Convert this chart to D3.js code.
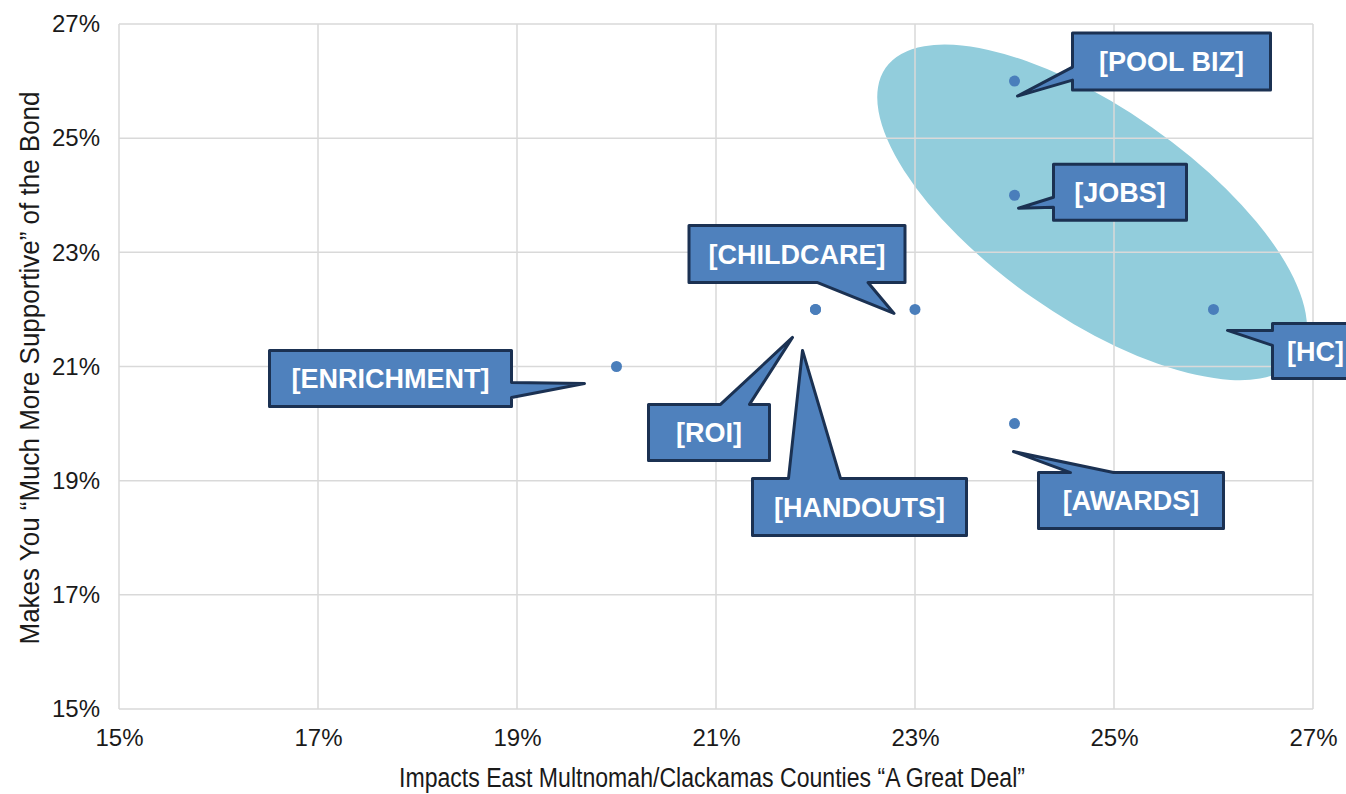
<!DOCTYPE html>
<html>
<head>
<meta charset="utf-8">
<script src="https://cdn.jsdelivr.net/npm/d3@7"></script>
<style>
  body { margin: 0; background: #fff; }
  text { font-family: "Liberation Sans", Arial, sans-serif; }
</style>
</head>
<body>
<div id="chart"></div>
<script>
// data
const labels  = ["[POOL BIZ]", "[JOBS]", "[HC]", "[CHILDCARE]", "[ROI]", "[HANDOUTS]", "[ENRICHMENT]", "[AWARDS]"];
const xValues = [24, 24, 26, 23, 22, 22, 20, 24];
const yValues = [26, 24, 22, 22, 22, 22, 21, 20];
const xTicks  = [15, 17, 19, 21, 23, 25, 27];
const yTicks  = [15, 17, 19, 21, 23, 25, 27];
const xTitle  = "Impacts East Multnomah/Clackamas Counties \u201CA Great Deal\u201D";
const yTitle  = "Makes You \u201CMuch More Supportive\u201D of the Bond";
// lingkaran sorotan (pusat dalam satuan data)
const highlightCenter = [24.78, 23.7];

// layout callout, offset px relatif ke titik
const callouts = [
  { box: [58, -48, 198, 57],   side: "left",   b: [34, 47],   tip: [3, 15] },
  { box: [39, -31, 133, 56],   side: "left",   b: [33, 43],   tip: [4, 13] },
  { box: [59, 14, 86, 55],     side: "left",   b: [7, 22],    tip: [14, 21] },
  { box: [-226, -84, 216, 57], side: "bottom", b: [128, 179], tip: [-21, 4] },
  { box: [-167, 95, 121, 56],  side: "top",    b: [72, 101],  tip: [-23, 28] },
  { box: [-63, 169, 214, 57],  side: "top",    b: [36, 88],   tip: [-13, 41] },
  { box: [-347, -16, 242, 56], side: "right",  b: [32, 47],   tip: [-32, 17] },
  { box: [24, 49, 185, 56],    side: "top",    b: [32, 75],   tip: [-1, 28] }
];

const W = 1346, H = 794;
const margin = { top: 24, right: 33, bottom: 85, left: 119 },
      width  = W - margin.left - margin.right,
      height = H - margin.top - margin.bottom;

const svg = d3.select("#chart").append("svg")
    .attr("width", W).attr("height", H)
  .append("g")
    .attr("transform", `translate(${margin.left},${margin.top})`);

const x = d3.scaleLinear().domain([15, 27]).range([0, width]);
const y = d3.scaleLinear().domain([15, 27]).range([height, 0]);

// ellips sorotan
svg.append("ellipse")
  .attr("cx", 0).attr("cy", 0)
  .attr("rx", 252).attr("ry", 104)
  .attr("transform", `translate(${x(highlightCenter[0])},${y(highlightCenter[1])}) rotate(35)`)
  .attr("fill", "#92cddc");

// grid
svg.append("g").selectAll("line.gx").data(xTicks).enter().append("line")
  .attr("x1", d => x(d)).attr("x2", d => x(d))
  .attr("y1", 0).attr("y2", height)
  .attr("stroke", "#d9d9d9").attr("stroke-width", 1.5);
svg.append("g").selectAll("line.gy").data(yTicks).enter().append("line")
  .attr("x1", 0).attr("x2", width)
  .attr("y1", d => y(d)).attr("y2", d => y(d))
  .attr("stroke", "#d9d9d9").attr("stroke-width", 1.5);

// sumbu
const xAxis = svg.append("g")
  .attr("transform", `translate(0,${height})`)
  .call(d3.axisBottom(x).tickValues(xTicks).tickSize(0).tickPadding(20).tickFormat(d => d + "%"));
const yAxis = svg.append("g")
  .call(d3.axisLeft(y).tickValues(yTicks).tickSize(0).tickPadding(19).tickFormat(d => d + "%"));
[xAxis, yAxis].forEach(a => {
  a.select(".domain").remove();
  a.selectAll("text")
    .style("font-family", "'Liberation Sans', Arial, sans-serif")
    .style("font-size", "24px")
    .attr("fill", "#1a1a1a");
});

// label sumbu
svg.append("text")
  .attr("x", width / 2 - 4).attr("y", height + 78)
  .attr("text-anchor", "middle")
  .attr("font-size", "27px").attr("fill", "#1a1a1a")
  .attr("textLength", 626).attr("lengthAdjust", "spacingAndGlyphs")
  .text(xTitle);
svg.append("text")
  .attr("transform", "rotate(-90)")
  .attr("x", -(368 - margin.top)).attr("y", -margin.left + 39)
  .attr("text-anchor", "middle")
  .attr("font-size", "27px").attr("fill", "#1a1a1a")
  .attr("textLength", 553).attr("lengthAdjust", "spacingAndGlyphs")
  .text(yTitle);

// titik
svg.selectAll("circle.dot")
  .data(labels.map((l, i) => ({ label: l, x: xValues[i], y: yValues[i] })))
  .enter().append("circle")
    .attr("class", "dot")
    .attr("cx", d => x(d.x))
    .attr("cy", d => y(d.y))
    .attr("r", 5.5)
    .attr("fill", "#4a7ebb");

// path callout: kotak + ekor dalam satu outline
function calloutPath(c) {
  const [bx, by, bw, bh] = c.box, [b1, b2] = c.b, t = c.tip.join(",");
  const p = [`M${bx},${by}`];
  if (c.side === "top") p.push(`L${bx + b1},${by}`, `L${t}`, `L${bx + b2},${by}`);
  p.push(`L${bx + bw},${by}`);
  if (c.side === "right") p.push(`L${bx + bw},${by + b1}`, `L${t}`, `L${bx + bw},${by + b2}`);
  p.push(`L${bx + bw},${by + bh}`);
  if (c.side === "bottom") p.push(`L${bx + b2},${by + bh}`, `L${t}`, `L${bx + b1},${by + bh}`);
  p.push(`L${bx},${by + bh}`);
  if (c.side === "left") p.push(`L${bx},${by + b2}`, `L${t}`, `L${bx},${by + b1}`);
  return p.join(" ") + "Z";
}

labels.forEach((lab, i) => {
  const c = callouts[i];
  const g = svg.append("g")
    .attr("transform", `translate(${x(xValues[i])},${y(yValues[i])})`);
  g.append("path")
    .attr("d", calloutPath(c))
    .attr("fill", "#4f81bd")
    .attr("stroke", "#1b3152")
    .attr("stroke-width", 3)
    .attr("stroke-linejoin", "round");
  g.append("text")
    .attr("x", c.box[0] + c.box[2] / 2)
    .attr("y", c.box[1] + c.box[3] / 2)
    .attr("dy", "0.36em")
    .attr("text-anchor", "middle")
    .attr("font-size", "27px")
    .attr("font-weight", "bold")
    .attr("fill", "#fff")
    .text(lab);
});
</script>
</body>
</html>
